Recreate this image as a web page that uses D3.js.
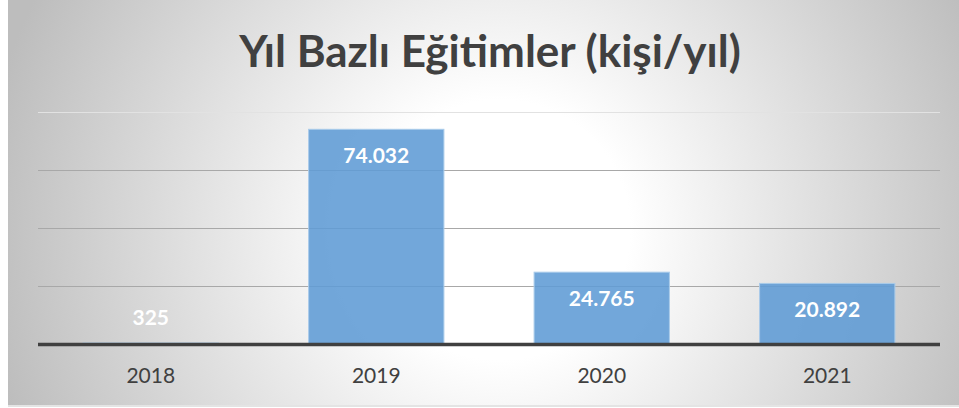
<!DOCTYPE html>
<html>
<head>
<meta charset="utf-8">
<script src="https://cdn.jsdelivr.net/npm/d3@7"></script>
<style>
  html, body { margin: 0; padding: 0; background: #fff; }
  svg { display: block; }
</style>
</head>
<body>
<svg id="chart" width="959" height="408"></svg>
<script>
const title = "Yıl Bazlı Eğitimler (kişi/yıl)";
const categories = ["2018", "2019", "2020", "2021"];
const values = [325, 74032, 24765, 20892];
const valueLabels = ["325", "74.032", "24.765", "20.892"];
const yTicks = [0, 20000, 40000, 60000, 80000];

const W = 959, H = 408;
const svg = d3.select("#chart");
const defs = svg.append("defs");
const grad = defs.append("radialGradient")
  .attr("id", "bg").attr("gradientUnits", "userSpaceOnUse")
  .attr("cx", 500).attr("cy", 230).attr("r", 520);
grad.append("stop").attr("offset", 0).attr("stop-color", "#ffffff");
grad.append("stop").attr("offset", 0.25).attr("stop-color", "#ffffff");
grad.append("stop").attr("offset", 1).attr("stop-color", "#bdbdbd");

svg.append("rect").attr("x", 8).attr("y", 0).attr("width", W - 8).attr("height", 405)
  .attr("fill", "url(#bg)");
svg.append("rect").attr("x", 8).attr("y", 405).attr("width", W - 8).attr("height", 2)
  .attr("fill", "#e4e4e4");

const plot = { left: 38, right: 940, top: 112, bottom: 344 };

const x = d3.scaleBand().domain(categories)
  .range([plot.left, plot.right]).paddingInner(0.4).paddingOuter(0.2);
const y = d3.scaleLinear().domain([0, 80000]).range([plot.bottom, plot.top]);

// gridlines
const grid = svg.append("g")
  .attr("transform", `translate(${plot.left},0)`)
  .call(d3.axisLeft(y).tickValues(yTicks.slice(1)).tickSize(-(plot.right - plot.left)).tickFormat(""));
grid.select(".domain").remove();
grid.selectAll(".tick line")
  .attr("stroke", (d) => d === 80000 ? "#e2e2e2" : "#a8a8a8")
  .attr("stroke-width", 1.2);

// bars
svg.append("g").selectAll("rect").data(categories).join("rect")
  .attr("x", (d) => x(d))
  .attr("y", (d, i) => y(values[i]))
  .attr("width", x.bandwidth())
  .attr("height", (d, i) => y(0) - y(values[i]))
  .attr("fill", "#5f9bd5")
  .attr("fill-opacity", 0.88)
  .attr("stroke", "#a9cbea")
  .attr("stroke-width", 1);

// baseline axis
const xAxis = svg.append("g")
  .attr("transform", `translate(0,${plot.bottom})`)
  .call(d3.axisBottom(x).tickSize(0).tickPadding(22));
xAxis.select(".domain").remove();
xAxis.append("line")
  .attr("x1", plot.left).attr("x2", plot.right)
  .attr("y1", 0.5).attr("y2", 0.5)
  .attr("stroke", "#404040").attr("stroke-width", 3.5);
xAxis.selectAll(".tick text")
  .attr("font-family", "Lato, 'Open Sans', sans-serif")
  .attr("font-size", 21)
  .attr("fill", "#404040")
  .attr("dy", "0.71em")
  .attr("y", 24);

// value labels
svg.append("g").selectAll("text").data(categories).join("text")
  .attr("x", (d) => x(d) + x.bandwidth() / 2)
  .attr("y", (d, i) => Math.min(y(values[i]) + 34, plot.bottom - 19))
  .attr("text-anchor", "middle")
  .attr("font-family", "Lato, 'Open Sans', sans-serif")
  .attr("font-weight", "bold")
  .attr("font-size", 21)
  .attr("fill", "#ffffff")
  .text((d, i) => valueLabels[i]);

// title
svg.append("text")
  .attr("x", 490).attr("y", 67)
  .attr("text-anchor", "middle")
  .attr("font-family", "Lato, 'Open Sans', sans-serif")
  .attr("font-weight", "bold")
  .attr("font-size", 44)
  .attr("fill", "#404040")
  .text(title);
</script>
</body>
</html>
